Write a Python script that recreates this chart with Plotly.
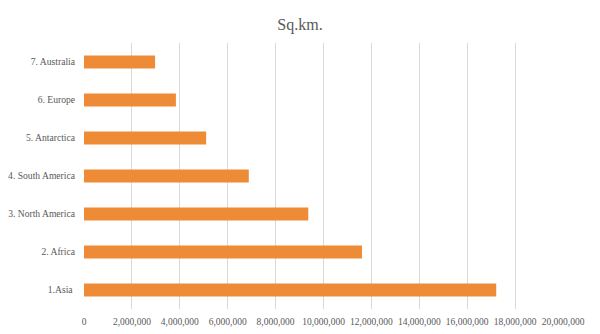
import plotly.graph_objects as go

categories = ["1.Asia ", "2. Africa", "3. North America", "4. South America",
              "5. Antarctica", "6. Europe", "7. Australia"]
values = [17212000, 11608000, 9365000, 6880000, 5100000, 3837000, 2968000]
tick_vals = list(range(0, 20000001, 2000000))
tick_text = [f"{v:,}" for v in tick_vals]

fig = go.Figure(go.Bar(
    x=values, y=categories, orientation="h",
    marker=dict(color="#ED8B37", line=dict(width=0)),
    width=0.34,
))

fig.update_layout(
    width=600, height=334,
    margin=dict(l=84, r=37, t=43, b=25, autoexpand=False),
    paper_bgcolor="white", plot_bgcolor="white",
    font=dict(family="Liberation Serif", color="#595959"),
    title=dict(text="Sq.km.", x=0.5, xanchor="center", y=1 - 24/334, yanchor="middle",
               font=dict(family="Liberation Serif", size=16, color="#595959")),
    showlegend=False,
    bargap=0.66,
)
fig.update_xaxes(
    range=[0, 20000000], tickvals=tick_vals, ticktext=tick_text,
    showgrid=True, gridcolor="#D9D9D9", gridwidth=1, zeroline=False,
    showline=False, ticks="", tickangle=0, automargin=False,
    tickfont=dict(family="Liberation Serif", size=9.5, color="#595959"),
    ticklabelstandoff=5, fixedrange=True,
)
fig.update_yaxes(
    categoryorder="array", categoryarray=categories,
    showgrid=False, zeroline=False, showline=False, ticks="", automargin=False,
    tickfont=dict(family="Liberation Serif", size=9.6, color="#595959"), ticklabelstandoff=8,
    range=[-0.5, 6.5],
)

fig.write_html("out.html")
